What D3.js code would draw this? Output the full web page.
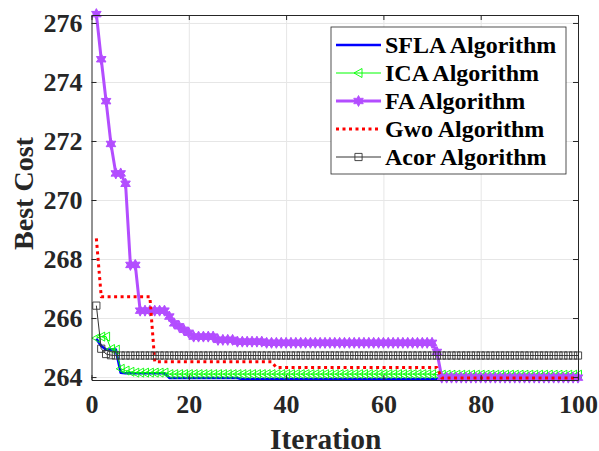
<!DOCTYPE html>
<html>
<head>
<meta charset="utf-8">
<script src="https://cdn.jsdelivr.net/npm/d3@7"></script>
<style>
  body { margin: 0; background: #fff; }
  svg { display: block; }
</style>
</head>
<body>
<div id="chart"></div>
<script>
// Data
const iterations = d3.range(1, 101);
const xTicks = [0, 20, 40, 60, 80, 100];
const yTicks = [264, 266, 268, 270, 272, 274, 276];

const sfla = [
  265.30, 265.05, 264.93, 264.93, 264.93, 264.15, 264.13, 264.13, 264.13, 264.13,
  264.13, 264.13, 264.13, 264.13, 264.13, 263.97, 263.97, 263.97, 263.97, 263.97,
  263.97, 263.97, 263.97, 263.97, 263.97, 263.97, 263.97, 263.97, 263.97, 263.97,
  263.93, 263.93, 263.93, 263.93, 263.93, 263.93, 263.93, 263.93, 263.93, 263.93,
  263.93, 263.93, 263.93, 263.93, 263.93, 263.93, 263.93, 263.93, 263.93, 263.93,
  263.93, 263.93, 263.93, 263.93, 263.93, 263.93, 263.93, 263.93, 263.93, 263.93,
  263.93, 263.93, 263.93, 263.93, 263.93, 263.93, 263.93, 263.93, 263.93, 263.93,
  263.93, 263.93, 263.93, 263.93, 263.93, 263.93, 263.93, 263.93, 263.93, 263.93,
  263.93, 263.93, 263.93, 263.93, 263.93, 263.93, 263.93, 263.93, 263.93, 263.93,
  263.93, 263.93, 263.93, 263.93, 263.93, 263.93, 263.93, 263.93, 263.93, 263.93
];
const ica = [
  265.32, 265.37, 265.37, 264.95, 264.93, 264.28, 264.22, 264.18, 264.15, 264.15,
  264.15, 264.15, 264.15, 264.15, 264.15, 264.10, 264.10, 264.10, 264.10, 264.10,
  264.10, 264.10, 264.10, 264.10, 264.10, 264.10, 264.10, 264.10, 264.10, 264.10,
  264.10, 264.10, 264.10, 264.10, 264.10, 264.10, 264.10, 264.10, 264.10, 264.10,
  264.10, 264.10, 264.10, 264.10, 264.10, 264.10, 264.10, 264.10, 264.10, 264.10,
  264.10, 264.10, 264.10, 264.10, 264.10, 264.10, 264.10, 264.10, 264.10, 264.10,
  264.10, 264.10, 264.10, 264.10, 264.10, 264.10, 264.10, 264.10, 264.10, 264.10,
  264.08, 264.08, 264.08, 264.08, 264.08, 264.08, 264.08, 264.08, 264.08, 264.08,
  264.08, 264.08, 264.08, 264.08, 264.08, 264.08, 264.08, 264.08, 264.08, 264.08,
  264.08, 264.08, 264.08, 264.08, 264.08, 264.08, 264.08, 264.08, 264.08, 264.08
];
const fa = [
  276.30, 274.77, 273.35, 271.90, 270.90, 270.90, 270.55, 267.80, 267.80, 266.25,
  266.25, 266.25, 266.25, 266.25, 266.25, 266.05, 265.82, 265.72, 265.60, 265.50,
  265.37, 265.37, 265.37, 265.37, 265.37, 265.26, 265.26, 265.26, 265.26, 265.20,
  265.20, 265.20, 265.20, 265.20, 265.20, 265.16, 265.16, 265.16, 265.16, 265.16,
  265.16, 265.16, 265.16, 265.16, 265.16, 265.16, 265.16, 265.16, 265.16, 265.16,
  265.16, 265.16, 265.16, 265.16, 265.16, 265.16, 265.16, 265.16, 265.16, 265.16,
  265.16, 265.16, 265.16, 265.16, 265.16, 265.16, 265.16, 265.16, 265.16, 265.16,
  264.85, 263.98, 263.98, 263.98, 263.98, 263.98, 263.98, 263.98, 263.98, 263.98,
  263.98, 263.98, 263.98, 263.98, 263.98, 263.98, 263.98, 263.98, 263.98, 263.98,
  263.98, 263.98, 263.98, 263.98, 263.98, 263.98, 263.98, 263.98, 263.98, 263.98
];
const gwo = [
  268.70, 266.72, 266.72, 266.72, 266.72, 266.72, 266.72, 266.72, 266.72, 266.72,
  266.72, 266.72, 264.52, 264.52, 264.52, 264.52, 264.52, 264.52, 264.52, 264.52,
  264.52, 264.52, 264.52, 264.52, 264.52, 264.52, 264.52, 264.52, 264.52, 264.52,
  264.52, 264.52, 264.52, 264.52, 264.52, 264.52, 264.52, 264.32, 264.32, 264.32,
  264.32, 264.32, 264.32, 264.32, 264.32, 264.32, 264.32, 264.32, 264.32, 264.32,
  264.32, 264.32, 264.32, 264.32, 264.32, 264.32, 264.32, 264.32, 264.32, 264.32,
  264.32, 264.32, 264.32, 264.32, 264.32, 264.32, 264.32, 264.32, 264.32, 264.32,
  264.32, 263.97, 263.97, 263.97, 263.97, 263.97, 263.97, 263.97, 263.97, 263.97,
  263.97, 263.97, 263.97, 263.97, 263.97, 263.97, 263.97, 263.97, 263.97, 263.97,
  263.97, 263.97, 263.97, 263.97, 263.97, 263.97, 263.97, 263.97, 263.97, 263.97
];
const acor = [
  266.42, 264.96, 264.78, 264.74, 264.73, 264.73, 264.73, 264.73, 264.73, 264.73,
  264.73, 264.73, 264.73, 264.73, 264.73, 264.73, 264.73, 264.73, 264.73, 264.73,
  264.73, 264.73, 264.73, 264.73, 264.73, 264.73, 264.73, 264.73, 264.73, 264.73,
  264.73, 264.73, 264.73, 264.73, 264.73, 264.73, 264.73, 264.73, 264.73, 264.73,
  264.73, 264.73, 264.73, 264.73, 264.73, 264.73, 264.73, 264.73, 264.73, 264.73,
  264.73, 264.73, 264.73, 264.73, 264.73, 264.73, 264.73, 264.73, 264.73, 264.73,
  264.73, 264.73, 264.73, 264.73, 264.73, 264.73, 264.73, 264.73, 264.73, 264.73,
  264.73, 264.73, 264.73, 264.73, 264.73, 264.73, 264.73, 264.73, 264.73, 264.73,
  264.73, 264.73, 264.73, 264.73, 264.73, 264.73, 264.73, 264.73, 264.73, 264.73,
  264.73, 264.73, 264.73, 264.73, 264.73, 264.73, 264.73, 264.73, 264.73, 264.73
];

const seriesNames = ["SFLA Algorithm", "ICA Algorithm", "FA Algorithm", "Gwo Algorithm", "Acor Algorithm"];
const seriesValues = [sfla, ica, fa, gwo, acor];

const X_LABEL = "Iteration";
const Y_LABEL = "Best Cost";

// Styles per series (same order as names)
const STYLES = [
  { color: "#0000ff", width: 2.6, dash: null, marker: null },
  { color: "#00ff00", width: 1, dash: null, marker: "triangle" },
  { color: "#b34dff", width: 3, dash: null, marker: "star" },
  { color: "#ff0000", width: 3, dash: "3,3.5", marker: null },
  { color: "#333333", width: 1, dash: null, marker: "square" }
];

const FONT = "'Liberation Serif', 'Times New Roman', serif";
const WIDTH = 599, HEIGHT = 451;
const margin = { top: 15, right: 21, bottom: 71, left: 91.5 };
const width = WIDTH - margin.left - margin.right;
const height = HEIGHT - margin.top - margin.bottom;
const AXIS_COLOR = "#262626";
const GRID_COLOR = "#e6e6e6";

const svg = d3.select("#chart")
  .append("svg")
  .attr("width", WIDTH)
  .attr("height", HEIGHT);

const g = svg.append("g")
  .attr("transform", `translate(${margin.left},${margin.top})`);

const x = d3.scaleLinear().domain([0, 100]).range([0, width]);
const y = d3.scaleLinear().domain([263.9, 276.27]).range([height, 0]);

// Grid
g.append("g")
  .attr("transform", `translate(0,${height})`)
  .call(d3.axisBottom(x).tickValues(xTicks.slice(1, -1)).tickSize(-height).tickFormat(""))
  .call(s => s.select(".domain").remove())
  .call(s => s.selectAll("line").attr("stroke", GRID_COLOR));
g.append("g")
  .call(d3.axisLeft(y).tickValues(yTicks).tickSize(-width).tickFormat(""))
  .call(s => s.select(".domain").remove())
  .call(s => s.selectAll("line").attr("stroke", GRID_COLOR));

// Markers
function starPath(r) {
  const pts = [];
  for (let i = 0; i < 12; i++) {
    const a = Math.PI / 6 * i - Math.PI / 2;
    const rr = i % 2 === 0 ? r : r * 0.55;
    pts.push([rr * Math.cos(a), rr * Math.sin(a)]);
  }
  return "M" + pts.map(p => p.join(",")).join("L") + "Z";
}
function markerPath(kind) {
  if (kind === "triangle") return "M-4.5,0L3.5,-4.5L3.5,4.5Z";
  if (kind === "square") return "M-3.6,-3.6H3.6V3.6H-3.6Z";
  if (kind === "star") return starPath(5.5);
  return null;
}

const line = d3.line()
  .x((d, i) => x(iterations[i]))
  .y(d => y(d));

seriesValues.forEach((values, k) => {
  const st = STYLES[k];
  g.append("path")
    .datum(values)
    .attr("d", line)
    .attr("fill", "none")
    .attr("stroke", st.color)
    .attr("stroke-width", st.width)
    .attr("stroke-dasharray", st.dash)
    .attr("stroke-linejoin", "round");

  if (st.marker) {
    g.append("g")
      .selectAll("path")
      .data(values)
      .join("path")
      .attr("transform", (d, i) => `translate(${x(iterations[i])},${y(d)})`)
      .attr("d", markerPath(st.marker))
      .attr("fill", st.marker === "star" ? st.color : "none")
      .attr("stroke", st.color)
      .attr("stroke-width", st.marker === "star" ? 1 : 0.9);
  }
});

// Axes (box with inward ticks)
const styleAxis = s => {
  s.select(".domain").attr("stroke", AXIS_COLOR);
  s.selectAll(".tick line").attr("stroke", AXIS_COLOR);
};
const styleTickText = t => t
  .style("font-family", FONT)
  .style("font-weight", "bold")
  .style("font-size", "26px")
  .attr("fill", AXIS_COLOR);

g.append("g")
  .attr("transform", `translate(0,${height})`)
  .call(d3.axisBottom(x).tickValues(xTicks).tickSizeInner(-5).tickSizeOuter(0))
  .attr("font-family", null)
  .call(styleAxis)
  .call(s => s.selectAll("text").attr("y", 33).attr("dy", null).call(styleTickText));

g.append("g")
  .call(d3.axisLeft(y).tickValues(yTicks).tickSizeInner(-5).tickSizeOuter(0))
  .attr("font-family", null)
  .call(styleAxis)
  .call(s => s.selectAll("text").attr("x", -9).call(styleTickText));

g.append("g")
  .call(d3.axisTop(x).tickValues(xTicks).tickSizeInner(-5).tickSizeOuter(0).tickFormat(""))
  .call(styleAxis);

g.append("g")
  .attr("transform", `translate(${width},0)`)
  .call(d3.axisRight(y).tickValues(yTicks).tickSizeInner(-5).tickSizeOuter(0).tickFormat(""))
  .call(styleAxis);

// Axis labels
g.append("text")
  .attr("x", width / 2 - 9)
  .attr("y", height + 69)
  .attr("text-anchor", "middle")
  .style("font-family", FONT)
  .style("font-weight", "bold")
  .style("font-size", "29.5px")
  .attr("fill", AXIS_COLOR)
  .text(X_LABEL);

g.append("text")
  .attr("transform", "rotate(-90)")
  .attr("x", -height / 2 + 4)
  .attr("y", -59)
  .attr("text-anchor", "middle")
  .style("font-family", FONT)
  .style("font-weight", "bold")
  .style("font-size", "28px")
  .attr("fill", AXIS_COLOR)
  .text(Y_LABEL);

// Legend
const legend = svg.append("g").attr("transform", "translate(331,27)");
legend.append("rect")
  .attr("width", 235)
  .attr("height", 147)
  .attr("fill", "#fff")
  .attr("stroke", AXIS_COLOR)
  .attr("stroke-width", 0.8);

seriesNames.forEach((name, k) => {
  const st = STYLES[k];
  const row = legend.append("g").attr("transform", `translate(0,${18 + k * 28})`);
  row.append("line")
    .attr("x1", 5).attr("x2", 50)
    .attr("stroke", st.color)
    .attr("stroke-width", st.width)
    .attr("stroke-dasharray", st.dash);
  if (st.marker) {
    row.append("path")
      .attr("transform", "translate(27.5,0)")
      .attr("d", markerPath(st.marker))
      .attr("fill", st.marker === "star" ? st.color : "none")
      .attr("stroke", st.color)
      .attr("stroke-width", 0.9);
  }
  row.append("text")
    .attr("x", 54)
    .attr("dy", "0.33em")
    .style("font-family", FONT)
    .style("font-weight", "bold")
    .style("font-size", "24px")
    .attr("fill", "#000")
    .text(name);
});
</script>
</body>
</html>
